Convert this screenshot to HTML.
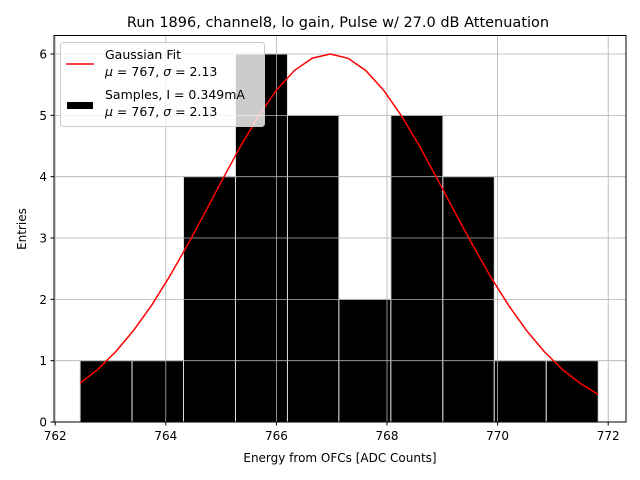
<!DOCTYPE html>
<html><head><meta charset="utf-8"><style>
body{margin:0;background:#fff;}
svg{display:block;font-family:"DejaVu Sans","Liberation Sans",sans-serif;}
</style></head><body>
<svg id="chart" width="640" height="480" viewBox="0 0 640 480">
<text x="338" y="27" font-size="14.5" text-anchor="middle">Run 1896, channel8, lo gain, Pulse w/ 27.0 dB Attenuation</text>
<g id="bars"></g>
<g id="grid"></g>
<path id="fit" fill="none" stroke="#ff0000" stroke-width="1.5"/>
<rect x="54" y="35.5" width="572" height="386.5" fill="none" stroke="#000" stroke-width="1"/>
<g id="ticks" font-size="12"></g>
<text x="340" y="462" font-size="12" text-anchor="middle">Energy from OFCs [ADC Counts]</text>
<text x="26" y="229" font-size="12" text-anchor="middle" transform="rotate(-90 26 229)">Entries</text>
<g>
<rect x="60.5" y="42.5" width="204" height="84" rx="3" fill="#fff" fill-opacity="0.8" stroke="#ccc"/>
<line x1="66" y1="64" x2="94" y2="64" stroke="#ff0000" stroke-width="1.5"/>
<text x="105" y="59" font-size="12.5">Gaussian Fit</text>
<text x="105" y="76" font-size="12.5"><tspan font-style="italic">μ</tspan> = 767, <tspan font-style="italic">σ</tspan> = 2.13</text>
<rect x="67" y="102" width="26" height="7" fill="#000"/>
<text x="105" y="99" font-size="12.5">Samples, I = 0.349mA</text>
<text x="105" y="116" font-size="12.5"><tspan font-style="italic">μ</tspan> = 767, <tspan font-style="italic">σ</tspan> = 2.13</text>
</g>
</svg>
<script>
const binEdges=[762.45,763.39,764.32,765.26,766.20,767.13,768.07,769.01,769.94,770.88,771.82];
const counts=[1,1,4,6,5,2,5,4,1,1];
const xTicks=[762,764,766,768,770,772];
const yTicks=[0,1,2,3,4,5,6];
const fitMu=[766.97];
const fitSigma=[2.13];
const fitAmp=[6.0];
const NS="http://www.w3.org/2000/svg";
const x=v=>55.2+(v-762)*55.3;
const y=v=>422-v*61.33;
function mk(t,a,p){const e=document.createElementNS(NS,t);for(const k in a)e.setAttribute(k,a[k]);p.appendChild(e);return e;}
const grid=document.getElementById('grid'),ticks=document.getElementById('ticks'),bars=document.getElementById('bars');
xTicks.forEach(t=>{
 const g=mk('line',{x1:x(t),x2:x(t),y1:35.5,y2:422,stroke:'#b0b0b0','stroke-width':0.8},grid);
 
 
 mk('line',{x1:x(t),x2:x(t),y1:422,y2:425.5,stroke:'#000'},ticks);
 const l=mk('text',{x:x(t),y:440,'text-anchor':'middle'},ticks);l.textContent=t;
 
 
});
yTicks.forEach(t=>{
 const g=mk('line',{x1:54,x2:626,y1:y(t),y2:y(t),stroke:'#b0b0b0','stroke-width':0.8},grid);
 
 
 mk('line',{x1:50.5,x2:54,y1:y(t),y2:y(t),stroke:'#000'},ticks);
 const l=mk('text',{x:47,y:y(t)+4.5,'text-anchor':'end'},ticks);l.textContent=t;
 
 
});
counts.forEach((c,i)=>{
 const x0=x(binEdges[i]),x1=x(binEdges[i+1]);
 const r=mk('rect',{x:x0,y:y(c),width:x1-x0,height:y(0)-y(c),fill:'#000',stroke:'#ddd','stroke-width':1},bars);
 
 
});
let d='';const lo=binEdges[0],hi=binEdges[binEdges.length-1],n=30;
for(let i=0;i<n;i++){const v=lo+(hi-lo)*i/(n-1);const f=fitAmp[0]*Math.exp(-Math.pow(v-fitMu[0],2)/(2*fitSigma[0]*fitSigma[0]));d+=(i?'L':'M')+x(v).toFixed(1)+','+y(f).toFixed(1);}
document.getElementById('fit').setAttribute('d',d);
</script>
</body></html>
